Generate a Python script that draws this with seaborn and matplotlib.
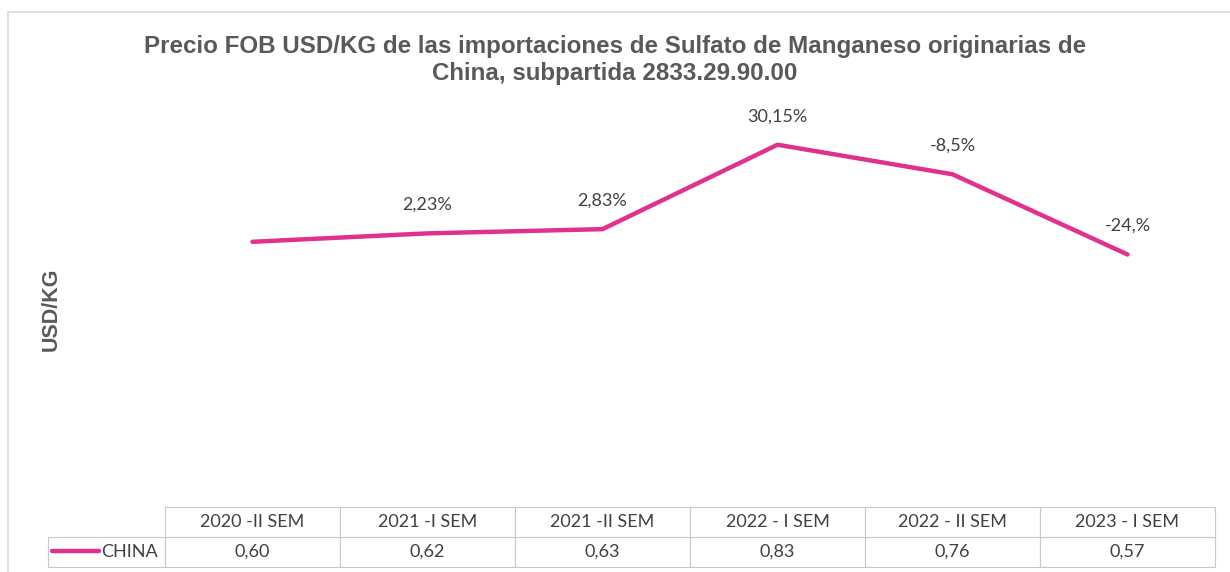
import matplotlib
matplotlib.use("Agg")
import pandas as pd
import seaborn as sns
import matplotlib.pyplot as plt
from matplotlib.patches import Rectangle

sns.set_style("white")
plt.rcParams['font.family'] = ['Lato', 'DejaVu Sans']

# datos
periodos = ['2020 -II SEM', '2021 -I SEM', '2021 -II SEM', '2022 - I SEM', '2022 - II SEM', '2023 - I SEM']
precio = [0.60, 0.62, 0.63, 0.83, 0.76, 0.57]
variacion = ['', '2,23%', '2,83%', '30,15%', '-8,5%', '-24,%']
serie = 'CHINA'

rosa = '#E0318F'
gris = '#595959'
texto = '#404040'

df = pd.DataFrame({'periodo': periodos, 'precio': precio, 'pos': range(len(periodos))})

fig = plt.figure(figsize=(12.3, 5.72), dpi=100)
ax = fig.add_axes([165 / 1230, 1 - 495 / 572, 1050 / 1230, 422 / 572])

sns.lineplot(data=df, x='pos', y='precio', color=rosa, linewidth=3.2, ax=ax,
             label=serie, solid_capstyle='round')
for i, row in df.iterrows():
    if variacion[i]:
        ax.annotate(variacion[i], (row['pos'], row['precio']), xytext=(0, 20.5),
                    textcoords='offset points', ha='center', va='center',
                    fontsize=13, color=texto)

ax.set_xlim(-0.5, len(periodos) - 0.5)
ax.set_ylim(0, 1)
ax.set_xticks([])
ax.set_yticks([])
ax.set_xlabel('')
ax.set_ylabel('USD/KG', fontsize=15.5, fontweight='bold', color=gris,
              family=['Liberation Sans', 'DejaVu Sans'])
ax.yaxis.set_label_coords((62 - 165) / 1050, 0.44)
sns.despine(ax=ax, left=True, bottom=True)

# tabla de datos (primera columna = celda de leyenda)
valores = [f'{v:.2f}'.replace('.', ',') for v in precio]
etiq_w = 117
tabla = ax.table(cellText=[[''] + valores], colLabels=[''] + periodos,
                 colWidths=[etiq_w] + [175] * len(periodos), cellLoc='center',
                 bbox=[-etiq_w / 1050, -72 / 422, 1 + etiq_w / 1050, 60 / 422])
tabla.auto_set_font_size(False)
for (r, c), cell in tabla.get_celld().items():
    cell.set_edgecolor('#C8C8C8')
    cell.set_linewidth(0.8)
    cell.get_text().set_fontsize(13)
    cell.get_text().set_color(texto)
    if r == 0 and c == 0:
        cell.visible_edges = ''

leg = ax.legend(loc='center left', bbox_to_anchor=((52 - 165) / 1050, (495 - 552) / 422),
                frameon=False, fontsize=13, handlelength=2.6, handletextpad=0.1,
                borderaxespad=0, borderpad=0)
for t in leg.get_texts():
    t.set_color(texto)

fig.suptitle('Precio FOB USD/KG de las importaciones de Sulfato de Manganeso originarias de\nChina, subpartida 2833.29.90.00',
             y=1 - 35 / 572, fontsize=17.4, fontweight='bold', color=gris,
             family=['Liberation Sans', 'DejaVu Sans'], linespacing=1.2)

fig.add_artist(Rectangle((8 / 1230, -0.1), 2, 1.1 - 12 / 572, transform=fig.transFigure,
                         fill=False, edgecolor='#D9D9D9', linewidth=1.2))

fig.savefig('out.png', dpi=100)
